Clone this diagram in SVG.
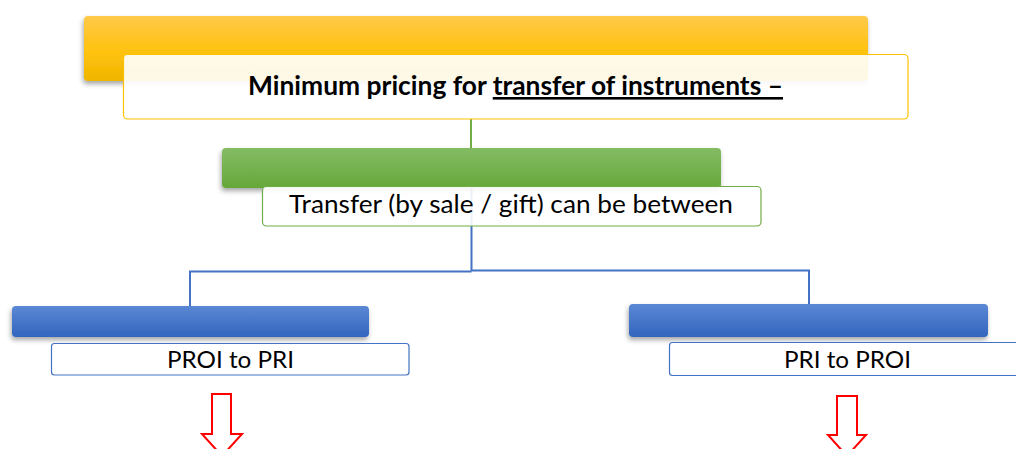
<svg xmlns="http://www.w3.org/2000/svg" width="1016" height="449" viewBox="0 0 1016 449">
  <defs>
    <linearGradient id="gYellow" x1="0" y1="0" x2="0" y2="1">
      <stop offset="0" stop-color="#FFC94A"/>
      <stop offset="0.55" stop-color="#FFC20E"/>
      <stop offset="1" stop-color="#EEB500"/>
    </linearGradient>
    <linearGradient id="gGreen" x1="0" y1="0" x2="0" y2="1">
      <stop offset="0" stop-color="#84BC64"/>
      <stop offset="1" stop-color="#66A83A"/>
    </linearGradient>
    <linearGradient id="gBlue" x1="0" y1="0" x2="0" y2="1">
      <stop offset="0" stop-color="#5B88D4"/>
      <stop offset="1" stop-color="#3265BF"/>
    </linearGradient>
    <filter id="shadow" x="-5%" y="-30%" width="110%" height="170%">
      <feDropShadow dx="-1" dy="3" stdDeviation="2.5" flood-color="#000" flood-opacity="0.35"/>
    </filter>
  </defs>
  <style>
    .bar { filter: url(#shadow); }
    .box { fill: #FFFFFF; fill-opacity: 0.9; stroke-width: 1.2; }
    .lbl { font-family: Lato, "Open Sans", "Liberation Sans", sans-serif; fill: #000; text-anchor: middle; }
    .title { font-weight: bold; font-size: 26px; }
    .mid { font-size: 24.5px; }
    .leaf { font-size: 23px; }
    .conn { fill: none; stroke-width: 2; }
    .arrow { fill: #FFFFFF; stroke: #FF0000; stroke-width: 2; }
  </style>
  <rect width="1016" height="449" fill="#FFFFFF"/>

  <!-- connectors -->
  <g id="connectors">
    <line class="conn" x1="471" y1="119" x2="471" y2="148" stroke="#70AD47"/>
    <polyline class="conn" points="471.5,188 471.5,270.5 809,270.5 809,304" stroke="#4472C4"/>
    <polyline class="conn" points="471.5,271.5 190,271.5 190,306" stroke="#4472C4"/>
  </g>

  <!-- top: minimum pricing -->
  <g id="node-title">
    <rect class="bar" x="84" y="16" width="784" height="65" rx="4" fill="url(#gYellow)"/>
    <rect class="box" x="123.5" y="54.5" width="784.5" height="64.5" rx="4" stroke="#FFC000"/>
    <text class="lbl title" x="515.5" y="95" textLength="535" lengthAdjust="spacingAndGlyphs">Minimum pricing for <tspan text-decoration="underline">transfer of instruments –</tspan></text>
  </g>

  <!-- middle: transfer -->
  <g id="node-transfer">
    <rect class="bar" x="222" y="148" width="499" height="40" rx="4" fill="url(#gGreen)"/>
    <rect class="box" x="262.5" y="186.5" width="498.5" height="39.5" rx="4" stroke="#70AD47"/>
    <text class="lbl mid" x="511" y="213" textLength="444" lengthAdjust="spacingAndGlyphs">Transfer (by sale / gift) can be between</text>
  </g>

  <!-- left leaf -->
  <g id="node-proi-pri">
    <rect class="bar" x="12" y="306" width="357" height="31" rx="4" fill="url(#gBlue)"/>
    <rect class="box" x="51.5" y="343.5" width="357.5" height="31.5" rx="3" stroke="#4472C4"/>
    <text class="lbl leaf" x="230.5" y="368" textLength="127" lengthAdjust="spacingAndGlyphs">PROI to PRI</text>
    <polygon class="arrow" points="212,394 231,394 231,434 242,434 222,456 202,434 212,434"/>
  </g>

  <!-- right leaf -->
  <g id="node-pri-proi">
    <rect class="bar" x="629" y="304" width="359" height="33" rx="4" fill="url(#gBlue)"/>
    <rect class="box" x="669.5" y="342.5" width="358" height="33" rx="3" stroke="#4472C4"/>
    <text class="lbl leaf" x="847.5" y="368" textLength="127" lengthAdjust="spacingAndGlyphs">PRI to PROI</text>
    <polygon class="arrow" points="837,396 857,396 857,435 866,435 847,456 828,435 837,435"/>
  </g>
</svg>
